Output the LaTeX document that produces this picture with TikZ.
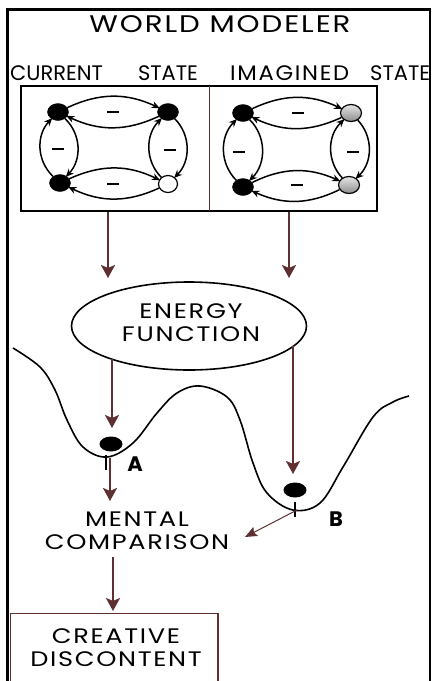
\documentclass[tikz,border=0pt]{standalone}
\usepackage{fontspec}
\setmainfont{Poppins}[LetterSpace=8]
\newfontfamily\widefont{Poppins}[FakeStretch=1.22,LetterSpace=8]
\newfontfamily\midfont{Poppins}[FakeStretch=1.08,LetterSpace=8]
\newfontfamily\narrowfont{Poppins}[LetterSpace=0]
\usetikzlibrary{arrows.meta,shapes.geometric}
\definecolor{brn}{HTML}{5E3030}
\begin{document}
\begin{tikzpicture}[x=1pt,y=-1pt,
  lbl/.style={font=\widefont\fontsize{21}{23}\selectfont, inner sep=0pt, align=center},
  slbl/.style={font=\fontsize{21}{23}\selectfont, inner sep=0pt, anchor=base west},
  ab/.style={font=\fontsize{21}{23}\selectfont\bfseries, inner sep=0pt, anchor=base},
  blk/.style={ellipse, fill=black, draw=black, minimum width=21pt, minimum height=17pt, inner sep=0pt},
  wht/.style={ellipse, fill=white, draw=black, line width=1.2pt, minimum width=19pt, minimum height=17pt, inner sep=0pt},
  gry/.style={ellipse, top color=gray!20, bottom color=gray!90, draw=black, line width=1.2pt, minimum width=21pt, minimum height=17pt, inner sep=0pt},
  arc/.style={draw=black, line width=1.5pt, -{Stealth[length=8pt,width=7pt]}, shorten >=-1pt},
  mns/.style={fill=black, minimum width=12pt, minimum height=2pt, inner sep=0pt},
  barrow/.style={draw=brn, line width=2.7pt, -{Stealth[length=13pt,width=14pt,inset=3pt]}},
  tarrow/.style={draw=brn, line width=1pt, -{Stealth[length=12pt,width=10pt,inset=2pt]}},
  ball/.style={ellipse, fill=black, minimum width=23pt, minimum height=15pt, inner sep=0pt}
]
\useasboundingbox (0,0) rectangle (432,681);
\clip (0,0) rectangle (432,681);
% outer frame
\draw[line width=2.4pt] (7.5,681) -- (7.5,9.5) -- (430,9.5) -- (430,681);
% titles
\node[lbl, anchor=base, font=\widefont\fontsize{24}{26}\selectfont] (title) at (220,32) {WORLD MODELER};
\node[slbl] (cur) at (10,80) {{\narrowfont CURRENT\hspace{35pt}STATE}};
\node[slbl] (img) at (230,80) {{\midfont IMAGINED}\hspace{21pt}{\narrowfont STATE}};
% state box
\draw[line width=1.6pt] (21,86) rectangle (377,211);
\draw[draw=brn, line width=1pt] (209,86) -- (209,211);
% current state graph
\node[blk] (c1) at (58,112) {};
\node[blk] (c2) at (168,112) {};
\node[blk] (c3) at (60,183) {};
\node[wht] (c4) at (168,184) {};
\draw[arc] (c1) to[bend left=25] (c2);
\draw[arc] (c2) to[bend left=25] (c1);
\draw[arc] (c3) to[bend left=25] (c4);
\draw[arc] (c4) to[bend left=25] (c3);
\draw[arc] (c3) to[bend left=45] (c1);
\draw[arc] (c1) to[bend left=45] (c3);
\draw[arc] (c4) to[bend left=45] (c2);
\draw[arc] (c2) to[bend left=45] (c4);
\node[mns] (m1) at (113,112) {};
\node[mns] (m2) at (113,184) {};
\node[mns] (m3) at (58,149) {};
\node[mns] (m4) at (170,150) {};
% imagined state graph
\node[blk] (i1) at (243,113) {};
\node[gry] (i2) at (351,113) {};
\node[blk] (i3) at (243,187) {};
\node[gry] (i4) at (349,185) {};
\draw[arc] (i1) to[bend left=25] (i2);
\draw[arc] (i2) to[bend left=25] (i1);
\draw[arc] (i3) to[bend left=25] (i4);
\draw[arc] (i4) to[bend left=25] (i3);
\draw[arc] (i3) to[bend left=45] (i1);
\draw[arc] (i1) to[bend left=45] (i3);
\draw[arc] (i4) to[bend left=45] (i2);
\draw[arc] (i2) to[bend left=45] (i4);
\node[mns] (n1) at (298,113) {};
\node[mns] (n2) at (297,185) {};
\node[mns] (n3) at (239,152) {};
\node[mns] (n4) at (353,152) {};
% arrows to energy function
\coordinate (s1) at (108,212);
\coordinate (e1) at (108,278);
\coordinate (s2) at (289,212);
\coordinate (e2) at (289,278);
\draw[barrow] (s1) -- (e1);
\draw[barrow] (s2) -- (e2);
% energy function
\node[ellipse, draw=black, line width=1.6pt, minimum width=235pt, minimum height=88pt, inner sep=0pt] (ef) at (189,326) {};
\node[lbl] (eft) at (191,323) {ENERGY\\FUNCTION};
% landscape
\draw[line width=1.6pt] plot[smooth, tension=0.6] coordinates {(13,348) (40,367) (55,390) (67,420) (83,447) (107,457) (133,443) (157,413) (177,393) (200,386) (227,397) (240,420) (253,463) (267,493) (293,510) (320,503) (343,467) (373,417) (393,402) (409,396)};
% balls
\node[ball] (ba) at (111,444) {};
\node[ball] (bb) at (295,490) {};
\coordinate (ta1) at (106,455);
\coordinate (ta2) at (106,470);
\draw[line width=1.2pt] (ta1) -- (ta2);
\coordinate (tb1) at (295,502);
\coordinate (tb2) at (295,517);
\draw[line width=1.2pt] (tb1) -- (tb2);
\node[ab] (la) at (135,471) {A};
\node[ab] (lb) at (336,526) {B};
% arrows from energy function
\coordinate (fa1) at (112,359);
\coordinate (fa2) at (112,428);
\coordinate (fb1) at (293,346);
\coordinate (fb2) at (293,474);
\draw[barrow] (fa1) -- (fa2);
\draw[barrow] (fb1) -- (fb2);
% comparison
\node[lbl] (mc) at (137,531) {MENTAL\\COMPARISON};
\coordinate (aa1) at (110,458);
\coordinate (aa2) at (110,501);
\draw[barrow] (aa1) -- (aa2);
\coordinate (bc1) at (297,510);
\coordinate (bc2) at (245,537);
\draw[tarrow] (bc1) -- (bc2);
% creative discontent
\draw[draw=brn, line width=1.6pt] (10.5,690) -- (10.5,613.5) -- (218,613.5) -- (218,690);
\node[lbl] (cd) at (116,647.5) {CREATIVE\\DISCONTENT};
\coordinate (cc1) at (113,557);
\coordinate (cc2) at (113,611);
\draw[barrow] (cc1) -- (cc2);
\end{tikzpicture}
\end{document}
